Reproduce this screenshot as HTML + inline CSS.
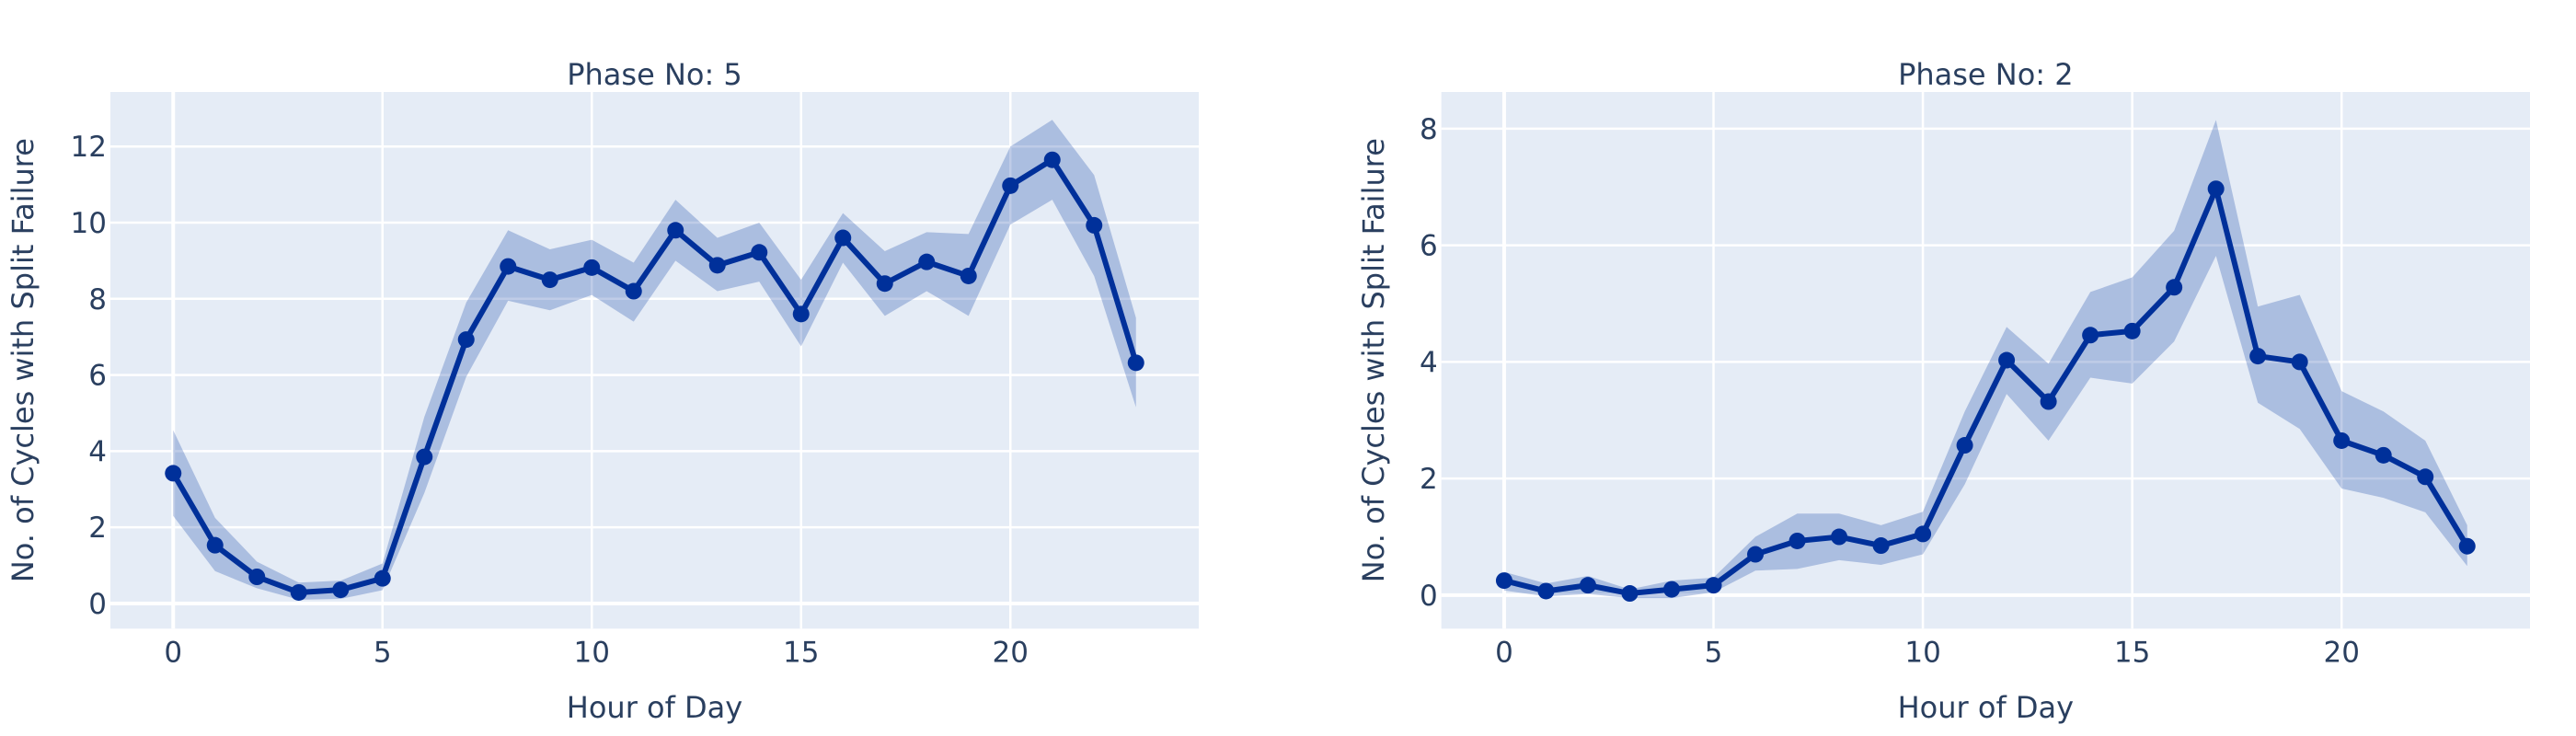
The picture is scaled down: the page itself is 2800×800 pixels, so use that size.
<!DOCTYPE html>
<html><head><meta charset="utf-8"><style>
body{margin:0;background:#fff;}
svg{display:block;font-family:"DejaVu Sans","Liberation Sans",sans-serif;}
</style></head><body>
<svg id="chart" width="2800" height="800"></svg>
<script>
const hours = [0,1,2,3,4,5,6,7,8,9,10,11,12,13,14,15,16,17,18,19,20,21,22,23];
const p5Mean = [3.42,1.53,0.7,0.29,0.36,0.66,3.85,6.93,8.85,8.5,8.82,8.2,9.8,8.88,9.22,7.6,9.6,8.4,8.97,8.6,10.97,11.65,9.93,6.32];
const p5Upper = [4.55,2.25,1.1,0.55,0.6,1.05,4.9,7.9,9.8,9.3,9.55,8.95,10.6,9.6,10.0,8.5,10.25,9.25,9.75,9.7,12.0,12.7,11.25,7.5];
const p5Lower = [2.3,0.85,0.4,0.1,0.12,0.35,2.9,5.95,7.95,7.7,8.1,7.4,9.0,8.2,8.45,6.75,8.95,7.55,8.2,7.55,9.95,10.6,8.6,5.15];
const p2Mean = [0.25,0.07,0.17,0.03,0.1,0.17,0.7,0.93,1.0,0.85,1.05,2.57,4.03,3.32,4.46,4.53,5.28,6.97,4.1,4.0,2.65,2.4,2.03,0.84];
const p2Upper = [0.4,0.2,0.33,0.1,0.25,0.3,1.0,1.4,1.4,1.2,1.43,3.15,4.6,3.97,5.2,5.45,6.25,8.15,4.95,5.15,3.5,3.15,2.65,1.2];
const p2Lower = [0.08,-0.02,0.02,-0.05,-0.05,0.05,0.42,0.45,0.6,0.52,0.7,1.9,3.45,2.65,3.73,3.63,4.35,5.82,3.3,2.85,1.83,1.67,1.42,0.5];
const xTicks = [0,5,10,15,20];
const p5YTicks = [0,2,4,6,8,10,12];
const p2YTicks = [0,2,4,6,8];

const NS='http://www.w3.org/2000/svg';
const svg=document.getElementById('chart');
function mk(tag,attrs,parent){const e=document.createElementNS(NS,tag);for(const k in attrs)e.setAttribute(k,attrs[k]);(parent||svg).appendChild(e);return e;}

function panel(cfg){
  const {left,right,top,bottom,ymin,ymax,title,mean,upper,lower,yTicks,key}=cfg;
  const xmin=-1.5,xmax=24.5;
  const X=v=>left+(v-xmin)/(xmax-xmin)*(right-left);
  const Y=v=>bottom-(v-ymin)/(ymax-ymin)*(bottom-top);
  const g=mk('g',{});
  
  
  const bg=mk('rect',{x:left,y:top,width:right-left,height:bottom-top,fill:'#e5ecf6'},g);
  
  
  xTicks.forEach(t=>{
    const l=mk('line',{x1:X(t),x2:X(t),y1:top,y2:bottom,stroke:'#fff','stroke-width':t===0?4:2.5},g);
    
    
    const tx=mk('text',{x:X(t),y:bottom+36,'text-anchor':'middle','font-size':31,fill:'#2a3f5f'},g);
    tx.textContent=t;
    
    
  });
  yTicks.forEach(t=>{
    const l=mk('line',{x1:left,x2:right,y1:Y(t),y2:Y(t),stroke:'#fff','stroke-width':t===0?4:2.5},g);
    
    
    const tx=mk('text',{x:left-4,y:Y(t)+11,'text-anchor':'end','font-size':31,fill:'#2a3f5f'},g);
    tx.textContent=t;
    
    
  });
  let d='';
  hours.forEach((h,i)=>{d+=(i?'L':'M')+X(h)+','+Y(upper[i]);});
  for(let i=hours.length-1;i>=0;i--)d+='L'+X(hours[i])+','+Y(lower[i]);
  const band=mk('path',{d:d+'Z',fill:'rgba(0,51,160,0.25)'},g);
  
  
  const pts=hours.map((h,i)=>X(h)+','+Y(mean[i])).join(' ');
  const line=mk('polyline',{points:pts,fill:'none',stroke:'#00309a','stroke-width':6,'stroke-linejoin':'round'},g);
  
  
  hours.forEach((h,i)=>{
    const c=mk('circle',{cx:X(h),cy:Y(mean[i]),r:9,fill:'#00309a'},g);
    
    
  });
  const tt=mk('text',{x:(left+right)/2,y:92,'text-anchor':'middle','font-size':32,fill:'#2a3f5f'},g);
  tt.textContent=title;
  
  
  const xt=mk('text',{x:(left+right)/2,y:780,'text-anchor':'middle','font-size':32,fill:'#2a3f5f'},g);
  xt.textContent='Hour of Day';
  
  
  const yx=cfg.yTitleX, yc=(top+bottom)/2;
  const yt=mk('text',{x:yx,y:yc,'text-anchor':'middle','font-size':32,fill:'#2a3f5f',transform:'rotate(-90 '+yx+' '+yc+')'},g);
  yt.textContent='No. of Cycles with Split Failure';
  
  
}
panel({key:'phase-5',left:120,right:1303,top:100,bottom:683.3,ymin:-0.66,ymax:13.43,title:'Phase No: 5',mean:p5Mean,upper:p5Upper,lower:p5Lower,yTicks:p5YTicks,yTitleX:36});
panel({key:'phase-2',left:1566.7,right:2750,top:100,bottom:683.3,ymin:-0.574,ymax:8.63,title:'Phase No: 2',mean:p2Mean,upper:p2Upper,lower:p2Lower,yTicks:p2YTicks,yTitleX:1504});
</script>
</body></html>
